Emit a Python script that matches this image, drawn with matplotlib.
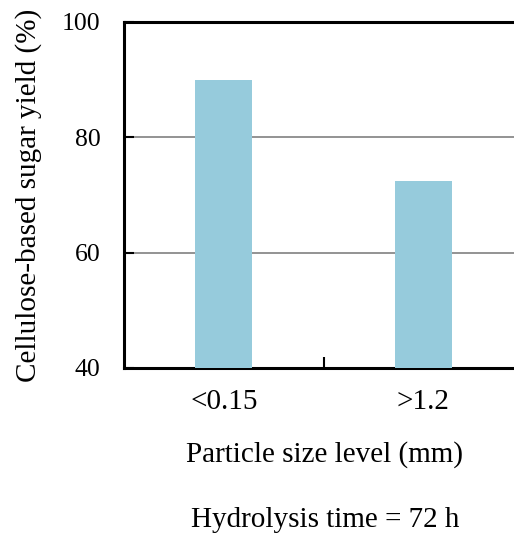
import matplotlib
matplotlib.use("Agg")
import matplotlib.pyplot as plt

# -----------------------------
# DATA
# -----------------------------
categories = ["<0.15", ">1.2"]
sugar_yield = [90.0, 72.5]
y_ticks = [40, 60, 80, 100]

BAR_COLOR = "#96cbdc"
FS = 21

plt.rcParams["font.family"] = ["Liberation Serif", "DejaVu Serif"]

W, H = 514, 542
fig = plt.figure(figsize=(W / 100, H / 100), dpi=100)

# axes box in pixels: left 124, right 523 (runs past the edge), top 22, bottom 368
left, right, top, bottom = 124, 523, 22, 368
ax = fig.add_axes([left / W, 1 - bottom / H, (right - left) / W, (bottom - top) / H])

x = list(range(len(categories)))
ax.bar(x, sugar_yield, width=0.285, color=BAR_COLOR, zorder=3)

ax.set_xlim(-0.5, len(categories) - 0.5)
ax.set_ylim(40, 100)
ax.set_yticks(y_ticks)
ax.set_yticklabels([str(v) for v in y_ticks], fontsize=18.5)

# category labels centred under the bars, tick mark between categories
ax.set_xticks([0.5])
ax.set_xticklabels([""])
ax.set_xticks(x, minor=True)
ax.set_xticklabels(categories, minor=True, fontsize=FS)
ax.tick_params(axis="x", which="minor", length=0, pad=15)
ax.tick_params(axis="x", which="major", direction="in", length=8, width=1.5)
ax.tick_params(axis="y", direction="in", length=7, width=1.5, pad=17)

ax.yaxis.grid(True, color="#808080", linewidth=1.2, zorder=0)
ax.set_axisbelow(True)

for s in ax.spines.values():
    s.set_linewidth(2.2)
    s.set_color("black")

ax.set_ylabel("Cellulose-based sugar yield (%)", fontsize=FS, labelpad=14)

fig.text(325 / W, 1 - 455 / H, "Particle size level (mm)", ha="center", va="center", fontsize=FS)
fig.text(325 / W, 1 - 520 / H, "Hydrolysis time = 72 h", ha="center", va="center", fontsize=FS)

fig.savefig("out.png", dpi=100)
